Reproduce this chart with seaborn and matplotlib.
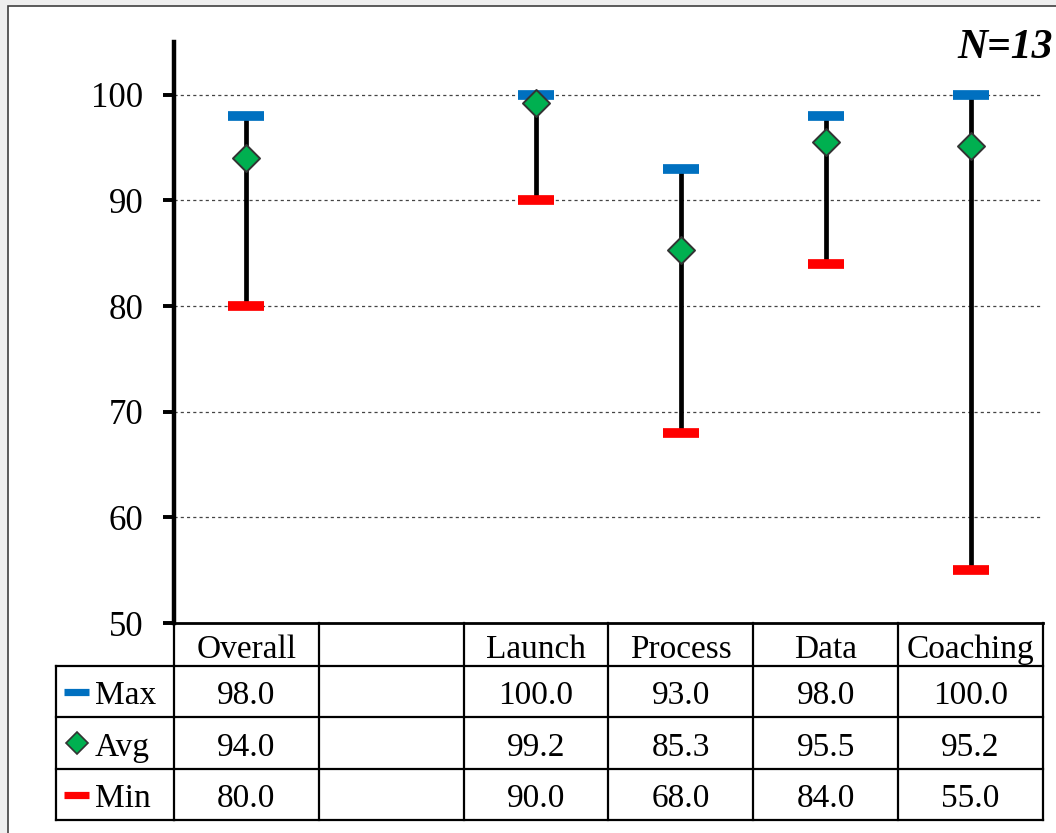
import numpy as np
import pandas as pd
import matplotlib
matplotlib.use("Agg")
import matplotlib.pyplot as plt
import matplotlib.transforms as mtransforms
from matplotlib.patches import Rectangle
from matplotlib.lines import Line2D
import seaborn as sns

# ---- data -------------------------------------------------------------
categories = ["Overall", "", "Launch", "Process", "Data", "Coaching"]
max_vals = [98.0, np.nan, 100.0, 93.0, 98.0, 100.0]
avg_vals = [94.0, np.nan, 99.2, 85.3, 95.5, 95.2]
min_vals = [80.0, np.nan, 90.0, 68.0, 84.0, 55.0]
series_names = ["Max", "Avg", "Min"]
y_ticks = [50, 60, 70, 80, 90, 100]
n_label = "N=13"

BLUE = "#0070c0"
GREEN = "#00b050"
RED = "#ff0000"

df = pd.DataFrame({"cat": categories, "pos": np.arange(len(categories)),
                   "max": max_vals, "avg": avg_vals, "min": min_vals})
valid = df.dropna()

sns.set_style("white")
plt.rcParams["font.family"] = ["Liberation Serif", "DejaVu Serif"]
plt.rcParams["text.color"] = "black"
plt.rcParams["ytick.color"] = "black"
plt.rcParams["ytick.labelcolor"] = "black"

W, H = 1056, 833
fig = plt.figure(figsize=(W / 100, H / 100), dpi=100, facecolor="#efefef")


def fx(px):
    return px / W


def fy(py):
    return 1 - py / H


# white chart panel with thin dark frame
fig.patches.append(Rectangle((fx(8), fy(900)), 1.2, fy(6) - fy(900),
                             transform=fig.transFigure, facecolor="white",
                             edgecolor="#404040", linewidth=1.2, zorder=-10))

ax_left, ax_right = 174, 1043
ax = fig.add_axes([fx(ax_left), fy(623), fx(ax_right) - fx(ax_left),
                   fy(42) - fy(623)])
ax.set_facecolor("none")
ax.set_xlim(-0.5, len(categories) - 0.5)
ax.set_ylim(50, 105)

# dashed horizontal gridlines
for t in y_ticks[1:]:
    ax.axhline(t, color="#444444", lw=0.9, ls=(0, (2.5, 2.5)), zorder=1)

# range stems
ax.vlines(valid["pos"], valid["min"], valid["max"], color="black",
          lw=3.4, zorder=2)
# max / min bars
half = 0.124
ax.hlines(valid["max"], valid["pos"] - half, valid["pos"] + half,
          color=BLUE, lw=7, zorder=3)
ax.hlines(valid["min"], valid["pos"] - half, valid["pos"] + half,
          color=RED, lw=7, zorder=3)
# average diamonds
sns.scatterplot(data=valid, x="pos", y="avg", marker="D", s=190,
                color=GREEN, edgecolor="#333333", linewidth=1.4,
                zorder=4, ax=ax, legend=False)

ax.set_xlabel("")
ax.set_ylabel("")
ax.set_xticks([])
ax.set_yticks(y_ticks)
ax.set_yticklabels([str(t) for t in y_ticks], fontsize=25)
ax.tick_params(axis="y", which="major", direction="out", length=8, width=2.6,
               pad=14, colors="black", left=True)
# outward tick marks on the value axis, as short solid segments
tick_len = 11 / (ax_right - ax_left)
ax.hlines(y_ticks, -tick_len, 0, transform=ax.get_yaxis_transform(),
          color="black", lw=2.6, clip_on=False, zorder=6)
for s in ["top", "right", "bottom"]:
    ax.spines[s].set_visible(False)
ax.spines["left"].set_linewidth(3.2)
ax.spines["left"].set_color("black")

ax.text(fx(1053), fy(58), n_label, transform=fig.transFigure, ha="right",
        va="baseline", fontsize=30, fontweight="bold", fontstyle="italic")

# ---- data table under the plot ------------------------------------------
blend = mtransforms.blended_transform_factory(ax.transData, fig.transFigure)
row_edges = [623, 666, 717, 769, 820]
x_left = -0.5
x_right = len(categories) - 0.5
tbl_lw = 1.6


def hline_data(y_px, x0, x1, lw=tbl_lw):
    fig.add_artist(Line2D([x0, x1], [fy(y_px)] * 2, transform=blend,
                          color="black", lw=lw, solid_capstyle="projecting"))


def vline_data(x, y0_px, y1_px):
    fig.add_artist(Line2D([x, x], [fy(y0_px), fy(y1_px)], transform=blend,
                          color="black", lw=tbl_lw, solid_capstyle="projecting"))


hline_data(row_edges[0], x_left, x_right, lw=2.0)
for y in row_edges[1:]:
    hline_data(y, x_left, x_right)
    fig.add_artist(Line2D([fx(56), fx(174)], [fy(y)] * 2,
                          transform=fig.transFigure, color="black",
                          lw=tbl_lw, solid_capstyle="projecting"))
for i in range(len(categories) + 1):
    vline_data(i - 0.5, row_edges[0], row_edges[-1])
fig.add_artist(Line2D([fx(56), fx(56)], [fy(666), fy(820)],
                      transform=fig.transFigure, color="black", lw=tbl_lw,
                      solid_capstyle="projecting"))

fs = 24
# header row with category names
for i, c in enumerate(categories):
    ax.text(i, fy(646), c, transform=blend, ha="center",
            va="center_baseline", fontsize=fs, clip_on=False)

rows = [max_vals, avg_vals, min_vals]
row_centers = [(row_edges[k] + row_edges[k + 1]) / 2 for k in range(1, 4)]
for vals, yc in zip(rows, row_centers):
    for i, v in enumerate(vals):
        if not np.isnan(v):
            ax.text(i, fy(yc + 1), f"{v:.1f}", transform=blend, ha="center",
                    va="center_baseline", fontsize=fs, clip_on=False)

# legend keys and series names in the first column
key_x0, key_x1 = fx(64), fx(89)
fig.add_artist(Line2D([key_x0, key_x1], [fy(row_centers[0])] * 2,
                      transform=fig.transFigure, color=BLUE, lw=5.2,
                      solid_capstyle="butt"))
fig.add_artist(Line2D([(key_x0 + key_x1) / 2], [fy(row_centers[1])],
                      transform=fig.transFigure, marker="D", markersize=11.5,
                      markerfacecolor=GREEN, markeredgecolor="#333333",
                      markeredgewidth=1.2, linestyle="none"))
fig.add_artist(Line2D([key_x0, key_x1], [fy(row_centers[2])] * 2,
                      transform=fig.transFigure, color=RED, lw=5.2,
                      solid_capstyle="butt"))
for name, yc in zip(series_names, row_centers):
    fig.text(fx(95), fy(yc + 1), name, ha="left", va="center_baseline",
             fontsize=fs)

fig.savefig("out.png", dpi=100, facecolor=fig.get_facecolor())
